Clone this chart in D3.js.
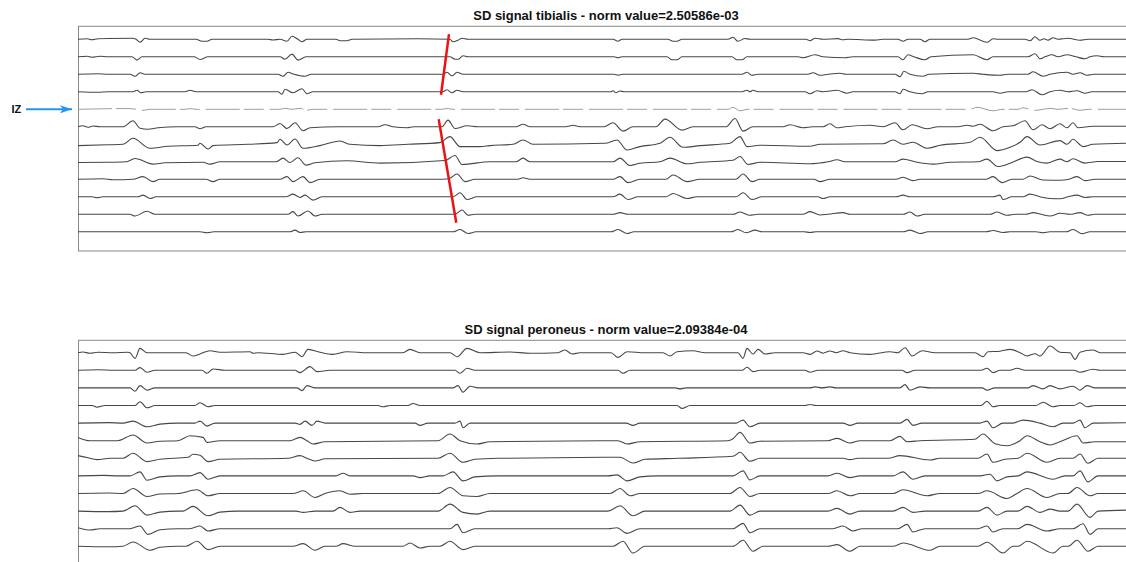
<!DOCTYPE html>
<html>
<head>
<meta charset="utf-8">
<script src="https://d3js.org/d3.v7.min.js"></script>
<style>
  body { margin: 0; background: #fff; }
  svg { display: block; }
</style>
</head>
<body>
<script>
// Panel titles
var titles = ["SD signal tibialis - norm value=2.50586e-03",
              "SD signal peroneus - norm value=2.09384e-04"];

// Innervation zone channel (tibialis)
var izChannel = 4;

// Tibialis traces: [time sample, amplitude] keypoints per channel
var tibialis = [
  [[0,0],[9,0.5],[14,-0.5],[20,0.5],[30,0.8],[55,1],[58,0],[62,-3],[67,1],[72,0],[118,0],[124,-2],[129,-2],[134,0],[190,0],[195,-0.7],[202,0],[209,-2],[214,3],[220,0],[224,-2.5],[229,0],[258,0],[262,-1.5],[269,-1.5],[274,0],[340,0.5],[372,0],[375,-2.5],[380,-1],[384,1],[390,0],[535,0],[540,-2],[544,0],[590,0],[595,-2],[599,-2],[604,0],[650,0],[655,2],[660,-2],[667,0.8],[672,0],[728,0],[732,-1.5],[737,1],[745,0],[760,0.7],[765,-0.5],[770,0],[797,-0.8],[805,0],[820,0],[825,-2],[830,0],[842,0],[847,-2.5],[852,0],[890,0],[895,1.5],[909,-3],[915,0.5],[920,0],[947,0],[952,-1.5],[957,2.5],[962,-1],[966,0.5],[970,-1],[975,1.5],[980,0],[990,1],[1002,-1],[1010,0],[1048,0]],
  [[0,0],[9,0.5],[14,-0.5],[22,0.5],[30,0],[54,0],[59,-3.3],[64,0],[116,0],[122,-2.7],[130,0],[202,0],[207,-2.5],[214,2.7],[220,-3.3],[228,0],[372,0],[377,-2.5],[380,-2.5],[385,1],[390,0],[536,0],[540,-1],[544,0],[589,0],[594,-3],[599,-3],[604,0],[654,0],[659,-3],[664,-3],[669,0],[720,0],[725,-1],[737,2],[745,0],[767,-1],[775,0],[820,0],[825,-3],[830,2],[836,0],[847,-3],[853,0],[895,2],[909,-3],[915,0],[950,0],[957,3],[962,-2],[967,0],[974,2],[980,0],[989,2],[998,0],[1007,-2],[1012,0],[1019,1],[1026,0],[1048,0]],
  [[0,0],[20,0.5],[30,0],[52,0],[57,-2],[62,1.5],[67,0],[200,0],[205,-2],[210,2],[216,0],[227,-2],[233,0],[365,0],[369,2],[374,-1.5],[379,2],[385,0],[536,0],[540,-0.8],[545,0],[664,0],[669,2],[674,-1],[680,0],[730,0],[735,1.5],[742,-1],[750,0],[762,1],[768,0],[817,0],[822,-2.5],[826,3],[832,0],[845,-2],[851,0],[895,1],[905,0],[922,-1],[930,0],[950,0],[955,2.5],[965,-2],[972,0],[989,2],[995,0],[1002,1.5],[1009,-1],[1016,0],[1048,0]],
  [[0,0],[20,-0.5],[30,0],[55,0],[59,1.5],[63,-1],[68,0],[107,0],[112,1.5],[118,0],[200,0],[204,-2.5],[207,2.5],[215,-1],[224,3],[229,-2],[235,0],[365,0],[369,2],[374,-1],[379,1.5],[385,0],[533,0],[535,1],[538,-1],[542,0.8],[546,0],[664,0],[669,1.5],[672,0],[675,1.5],[680,0],[727,0],[732,-2],[739,1],[745,0],[759,1.5],[769,-1.5],[775,0],[817,0],[822,-2],[825,2.5],[832,0],[844,-2],[850,0],[915,0],[922,-1.5],[930,0],[948,0],[954,2],[964,-3],[972,0],[982,1.5],[990,0],[999,1],[1007,-1.5],[1014,0],[1048,0]],
  [[0,0],[42,0.7],[52,0.7],[58,0],[65,-1],[72,0],[107,0],[112,0.7],[118,0],[202,0],[207,1],[214,0],[222,1],[229,-1],[235,0],[364,0],[369,0.8],[375,0],[650,0],[655,2],[662,-1.5],[670,0],[892,0],[899,2],[915,-1.5],[925,0],[940,0],[945,1.5],[957,-1],[965,0],[972,1],[980,0],[992,1],[1002,-1],[1010,0],[1048,0]],
  [[0,0],[5,1],[10,-0.5],[15,0.8],[22,0],[45,0],[55,6],[62,-1.5],[70,-2.5],[80,-1],[100,0],[117,0],[122,-2],[128,0],[195,0],[202,3.3],[209,-1.7],[217,4],[225,-4],[232,-1],[260,0],[300,0],[307,2],[315,0],[329,-1],[336,0],[364,0],[370,6.7],[377,-1.7],[389,1],[400,0],[438,0],[445,2.5],[452,0],[488,0],[495,1.5],[502,0],[526,0],[535,4],[545,-4.3],[555,0],[578,0],[587,7.7],[604,-3.3],[615,0],[648,0],[657,8.3],[665,-4.3],[675,0],[705,0],[712,2],[725,-1],[735,0],[745,0],[752,3],[759,-1],[767,0],[792,1.5],[805,0],[817,4],[825,-3],[834,2],[849,-2],[860,0],[880,0],[889,1.5],[895,0.5],[902,2.5],[915,-4],[925,0],[935,1],[947,6],[955,-3],[964,2],[972,-2],[982,3],[989,-1],[995,4],[1000,-1],[1015,0.5],[1048,0.5]],
  [[0,-1.3],[30,-0.5],[45,0],[55,6],[72,-4],[90,-2],[120,-1],[122,1],[130,-4.7],[135,-1.3],[170,0],[199,1.7],[202,5],[209,-0.7],[217,5.3],[225,-4],[242,-1.3],[262,3.3],[272,0],[302,-1.3],[330,0],[362,1.7],[372,7.7],[382,-2.3],[402,-2.3],[412,-1.3],[435,0],[445,4.3],[455,0],[527,1],[539,4.3],[549,-5.7],[562,-2.3],[582,1],[592,7],[605,-3],[622,-1.3],[652,1],[662,7.7],[669,-2.3],[682,-1],[732,-2],[742,0],[805,0.5],[815,4.3],[825,0],[835,2],[849,-4],[862,-1],[892,2],[902,7],[919,-6.3],[932,-3],[942,2],[949,7.7],[962,-0.7],[982,3.7],[989,0],[995,5],[1005,-2.3],[1015,0],[1048,1]],
  [[0,-0.7],[30,-0.5],[48,0],[57,3.3],[75,-2.3],[87,-1],[125,-0.5],[132,-2.3],[142,0],[198,0],[205,3.7],[212,-0.7],[220,4],[228,-3.3],[237,-1],[269,1],[302,-1.3],[367,1.3],[377,6.3],[384,-2.7],[412,0],[438,0],[445,3.7],[452,0],[535,0],[542,3.7],[552,-3.7],[562,-1.5],[582,0],[592,3.7],[609,-2],[622,-0.5],[655,1.5],[662,5.3],[670,-2.7],[682,-0.5],[732,-2],[750,0],[759,2],[767,0],[817,0],[825,2.7],[837,0],[855,-2.3],[872,-0.5],[900,0],[909,2.7],[920,-4.7],[932,-1.5],[949,4.7],[959,0.3],[969,-1.3],[982,2.7],[989,0],[995,3],[1007,-1.3],[1020,0.3],[1048,0.3]],
  [[0,0],[25,0.5],[35,-0.5],[55,0],[65,2.7],[75,-2.3],[82,0],[128,0],[135,-2.3],[142,0],[202,0],[209,2.7],[215,-2.3],[225,2.7],[232,-3.3],[242,0],[365,0],[372,1],[379,5.3],[387,-2.3],[397,0],[440,0],[445,1.5],[452,0],[535,0],[542,2.7],[550,-3.3],[562,0],[588,0],[595,4.3],[609,-2.3],[622,0],[658,0],[665,5.3],[674,-2.3],[682,0],[736,0],[742,-2.3],[752,0],[818,0],[825,2],[835,-1.3],[842,0],[908,0],[915,2.7],[924,-3.3],[934,0],[945,0],[952,3.3],[965,-0.7],[982,-1],[991,0],[999,2.7],[1007,-1.3],[1017,0],[1048,0]],
  [[0,0],[14,0],[19,-1],[25,0],[60,0],[65,1.7],[72,-1.7],[78,0],[208,0],[215,2.7],[222,-0.7],[227,1.7],[235,-3.3],[244,0],[375,0],[382,4],[389,-2.7],[399,0],[535,0],[542,2.7],[550,-2.7],[560,0],[588,0],[595,3.3],[609,-1.7],[619,0],[658,0],[665,4],[674,-2.7],[684,0],[740,0],[745,-1.7],[752,0],[818,0],[825,1.7],[832,0],[915,0],[922,1.7],[925,-2.7],[934,0],[945,0],[952,2.7],[962,0],[972,-1.7],[982,-2],[990,0],[999,1.7],[1007,-0.7],[1015,0],[1048,0]],
  [[0,0],[52,0],[57,-1.7],[69,3],[77,0],[210,0],[215,2.7],[220,-1.7],[230,3.3],[237,-1.7],[244,0],[377,0],[384,4.3],[390,-1],[397,0],[535,0],[542,1.7],[550,0],[655,0],[662,2.3],[672,-1],[680,0],[725,0],[732,2.7],[742,-0.7],[750,0],[765,1.7],[772,0],[825,0],[832,2.3],[839,-1.7],[847,0],[912,0],[919,2.3],[929,-1],[938,0],[948,0],[955,1.7],[963,0],[972,-1.7],[982,1],[992,0],[1002,1.7],[1010,-1],[1017,0],[1048,0]],
  [[0,0],[122,0],[129,-1],[136,0],[212,0],[217,1.7],[222,-0.7],[228,0],[375,0],[382,2.3],[390,-1.7],[398,0],[533,0],[540,2.3],[549,-1.7],[556,0],[653,0],[660,2.3],[668,-1],[677,1.7],[684,0],[726,0],[732,-0.7],[738,0],[825,0],[832,1.7],[842,-1.7],[850,0],[908,0],[915,1.3],[925,-0.7],[932,0],[958,0],[965,-1],[972,0],[988,0],[995,2.3],[1004,-2],[1012,0],[1048,0]]
];

// Peroneus traces: [time sample, amplitude] keypoints per channel
var peroneus = [
  [[0,0],[5,0.7],[12,-0.5],[20,0.5],[35,0],[50,0.5],[52,0],[57,-5.7],[62,4.3],[69,0],[108,0],[115,-3.3],[132,2],[142,0.5],[172,1],[175,-0.5],[180,0],[205,-1.7],[217,0.5],[224,-4],[230,3.3],[242,0.5],[255,-1.7],[269,1],[290,0],[325,0],[332,3.3],[342,0],[372,0],[379,-4],[389,4.3],[402,0],[432,0.7],[452,-0.5],[480,0],[487,2.7],[494,-1.3],[502,0],[533,0],[540,-4.7],[549,1],[567,0],[585,0],[592,-3.3],[599,1],[615,2],[627,0],[660,0],[665,-5.7],[669,4.3],[675,-1.3],[680,3.3],[687,-1.3],[697,0],[725,0],[732,-1.7],[739,1.7],[745,-0.5],[752,1.7],[758,0],[765,2],[772,0],[792,-1.7],[812,1],[820,0],[827,5],[834,-3.3],[844,2],[857,0],[897,0],[905,-4],[910,1],[922,1.5],[932,3.3],[942,0],[949,-3.3],[957,-1],[962,-3.3],[972,6.7],[982,0.5],[992,0],[997,-6.7],[1002,0.5],[1015,2.7],[1022,0],[1048,0]],
  [[0,0],[20,0.5],[35,0],[57,0],[62,2.7],[69,-2],[77,0],[124,0],[129,-3],[135,1.3],[147,0],[217,0],[222,-2.3],[232,3.7],[239,-1.3],[252,0],[377,0],[382,-3],[389,2],[397,0],[540,0],[545,-3],[552,0],[664,0],[669,3],[675,-1.3],[682,0],[727,0],[732,-2],[740,0],[824,0],[829,-2.3],[837,0],[903,0],[909,2],[915,-2.3],[922,0],[932,0],[939,2],[947,0],[996,0],[1002,-2],[1015,1],[1022,0],[1048,0]],
  [[0,0],[52,0],[57,-3.3],[62,2.3],[69,-2.3],[77,0],[219,0],[224,-2.7],[229,2.3],[237,0],[375,0],[380,2.3],[385,-4.3],[392,1.7],[400,0],[597,0],[602,-1],[608,0],[732,0],[737,1],[744,0],[752,1],[758,0],[822,0],[827,3.3],[832,-2.3],[842,1],[852,0],[904,0],[909,-2.3],[917,0],[950,0],[955,2.3],[965,-1],[972,2.3],[982,-1],[995,1.7],[1002,-2.3],[1009,2.3],[1017,0],[1048,0]],
  [[0,0],[14,0],[19,-1.7],[27,0],[57,0],[62,3.7],[69,-2.3],[77,0],[117,0],[122,2.7],[130,-1.3],[137,0],[300,0],[305,-1.3],[312,0],[330,0],[335,2],[342,0],[599,0],[604,-3],[612,0],[727,0],[732,1],[738,0],[903,0],[909,4.3],[915,-1.3],[922,0],[958,0],[965,3.3],[975,-1.3],[982,0],[996,0],[1002,2.7],[1009,-1.3],[1017,0],[1048,0]],
  [[0,0],[30,0.5],[45,0],[55,2],[69,-3.7],[82,-1],[100,0],[117,0],[122,2],[129,-3],[137,0],[217,0],[222,-1.3],[227,2],[234,-2.3],[239,2],[247,0],[337,0],[342,-2.3],[350,0],[377,0],[382,2],[385,-4.7],[392,0],[548,0],[555,-2.3],[562,0],[658,0],[665,3],[672,-3.7],[682,0],[765,0],[772,-2.3],[780,0],[822,0],[829,3.7],[835,-2.3],[844,0],[902,0],[909,2],[915,-4.7],[925,0],[935,0],[945,3],[962,0],[975,-3.7],[985,0],[995,0],[1002,3],[1007,-4.7],[1015,0],[1048,0.3]],
  [[0,3.3],[12,0],[40,0],[55,5.7],[69,-2.3],[82,-0.5],[100,0],[112,5],[125,3.3],[129,-1.7],[142,0],[212,0],[222,3.3],[229,0],[235,-3.3],[247,-1],[360,0],[372,6.7],[382,0],[399,-3.3],[412,-1],[540,0],[549,-3.3],[562,-1],[650,0],[655,2],[662,8.3],[672,-2.3],[682,-0.5],[750,0],[759,2.3],[772,-2.3],[782,0],[812,0],[822,4.3],[829,-1],[842,0],[897,1.5],[905,6.7],[917,-3],[929,-5],[942,0],[949,5],[962,-1],[972,-4.3],[982,-1],[999,5],[1005,-2.3],[1017,-1],[1048,-1]],
  [[0,2.7],[10,0.5],[19,-1.3],[32,0],[45,0],[55,5],[69,-3.3],[82,-1],[110,1],[115,4],[122,3],[130,-3.3],[142,-1],[210,0],[222,2.7],[229,0],[237,-2.7],[247,-0.5],[360,0],[372,5],[385,-4],[397,-1],[420,0],[542,1],[555,-4.7],[567,-1],[600,0],[655,2],[662,6],[672,-3],[682,0],[765,0],[772,-1.3],[780,0],[810,0],[822,2.7],[852,-1.7],[862,0],[900,0],[909,4.3],[915,-4],[927,-1],[940,0],[949,5],[969,-4],[982,0],[995,0],[1002,4.3],[1010,-5],[1020,0],[1048,0]],
  [[0,0],[25,0.5],[40,0],[52,0],[62,4],[69,-4.3],[82,-1],[100,0],[112,0],[122,3.3],[130,-3.3],[142,0],[258,0],[265,2.7],[272,0],[335,0],[342,-1.7],[352,0],[365,0],[375,4],[385,-5],[397,-1],[420,0],[530,0],[539,1],[549,-5],[562,-1],[580,0],[655,0],[665,5],[672,-4],[682,0],[750,0],[759,2.7],[772,-1.7],[782,0],[815,0],[825,4],[835,-3.3],[847,0],[902,0],[912,1.7],[919,-5],[929,-1],[940,0],[949,4],[975,-3.3],[987,0],[995,0],[1002,5],[1010,-6],[1020,0],[1048,0]],
  [[0,0],[30,0.5],[45,0],[55,5],[69,-3],[82,-0.5],[100,0],[119,3.7],[130,-2.3],[142,0],[215,0],[225,2.7],[237,-4],[247,0],[262,2.7],[272,-0.7],[285,0],[360,0],[372,6],[385,-2.3],[399,-3],[412,0],[532,0],[542,5],[552,-2.3],[562,0],[652,0],[662,6],[672,-3],[682,0],[750,0],[759,2.7],[772,-2.3],[782,0],[815,0],[825,3.7],[849,-2.3],[862,0],[900,0],[909,2.7],[929,-5],[939,0],[949,5],[969,-4],[982,0],[990,0],[999,6],[1012,-2.3],[1020,0],[1048,0]],
  [[0,0],[30,-0.5],[45,0],[57,5.3],[69,-4],[82,-1],[100,0],[105,0],[115,4.7],[130,-4.7],[142,-1],[160,0],[218,0],[225,-1.3],[237,0],[255,0],[262,3.7],[272,-1.3],[282,0],[360,0],[372,7],[385,-1.3],[399,-3],[412,0],[530,0],[542,5.3],[555,-4.7],[567,0],[652,0],[662,6],[672,-4],[682,0],[750,0],[759,2.7],[772,-3],[782,0],[815,0],[825,3.7],[835,-1.3],[847,0],[900,0],[909,3.7],[919,-4],[929,0],[940,0],[949,4.7],[962,-1.3],[972,2],[982,0],[990,0],[999,7],[1012,-6.3],[1020,0],[1048,1]],
  [[0,1],[12,-1.3],[22,0],[52,0],[62,2.7],[70,-5.7],[82,-1],[100,0],[112,0],[122,2.7],[130,-2.3],[142,0],[372,0],[379,4.3],[385,-4],[397,0],[530,0],[539,1],[549,-4.7],[562,0],[655,0],[665,5.3],[672,-4],[682,0],[755,0],[765,2.7],[775,-2.3],[784,0],[820,0],[829,4.3],[835,-3.3],[847,0],[900,0],[909,2.7],[915,-3.3],[925,0],[940,0],[949,4.3],[969,-2.3],[982,0],[995,0],[1005,5],[1012,-5.7],[1020,0],[1048,0]],
  [[0,0],[30,-0.5],[45,0],[55,4.3],[72,-4],[82,-1],[100,0],[108,0],[119,5],[130,-3.3],[142,0],[215,0],[225,2.7],[237,-4],[247,0],[258,0],[265,2.7],[277,0],[325,0],[332,3.3],[342,-1.7],[352,0],[362,0],[372,5],[385,-3.3],[397,0],[535,0],[545,5],[555,-6.7],[567,0],[655,0],[665,6],[675,-5],[685,0],[750,0],[759,1.7],[772,-5],[782,0],[815,0],[825,3.3],[852,-4],[862,0],[900,0],[909,4],[925,-6.7],[935,0],[940,0],[949,5],[975,-6.7],[985,0],[990,0],[999,6],[1010,-5],[1020,0],[1048,0]]
];

// Conduction lines on tibialis: [time sample, channel] end points
var izLines = [
  [[371, -0.3], [363, 3.17]],
  [[360.7, 4.57], [378.3, 10.48]]
];

var W = 1126, H = 562;
var svg = d3.select("body").append("svg")
    .attr("width", W)
    .attr("height", H);

// Shared time scale
var x = d3.scaleLinear().domain([0, 1048]).range([78, 1126]);
// Amplitude (px offsets around each channel baseline)
var amp = d3.scaleLinear().domain([-10, 10]).range([10, -10]);

var panels = [
  {title: titles[0], data: tibialis, frameTop: 26.3, frameBottom: 251, chan: d3.scaleLinear().domain([0, 11]).range([39.3, 231.8]), titleY: 19.5},
  {title: titles[1], data: peroneus, frameTop: 340.3, frameBottom: 600, chan: d3.scaleLinear().domain([0, 11]).range([352.7, 546.3]), titleY: 333.5}
];

panels.forEach(function(p, pi) {
  var g = svg.append("g");

  // frame
  g.append("rect")
      .attr("x", x(0) + 0.5)
      .attr("y", p.frameTop)
      .attr("width", x(1048) - x(0) + 10)
      .attr("height", p.frameBottom - p.frameTop)
      .attr("fill", "none")
      .attr("stroke", "#8a8a8a")
      .attr("stroke-width", 1);

  // title
  g.append("text")
      .attr("x", 606)
      .attr("y", p.titleY)
      .attr("text-anchor", "middle")
      .style("font-family", "Liberation Sans, Arial, sans-serif")
      .style("font-weight", "bold")
      .style("font-size", "13px")
      .attr("fill", "#111")
      .text(p.title);

  p.data.forEach(function(trace, ci) {
    var line = d3.line()
        .x(function(d) { return x(d[0]); })
        .y(function(d) { return p.chan(ci) + amp(d[1]); })
        .curve(d3.curveMonotoneX);
    var isIZ = (pi === 0 && ci === izChannel);
    g.append("path")
        .datum(trace)
        .attr("d", line)
        .attr("fill", "none")
        .attr("stroke", isIZ ? "#9e9e9e" : "#474747")
        .attr("stroke-width", isIZ ? 1 : 1.1)
        .attr("stroke-dasharray", isIZ ? "34,4,20,6" : null);
  });
});

// red conduction lines
izLines.forEach(function(seg) {
  svg.append("line")
      .attr("x1", x(seg[0][0]))
      .attr("y1", panels[0].chan(seg[0][1]))
      .attr("x2", x(seg[1][0]))
      .attr("y2", panels[0].chan(seg[1][1]))
      .attr("stroke", "#ee1111")
      .attr("stroke-width", 2.5);
});

// IZ label and arrow
var izY = panels[0].chan(izChannel);
svg.append("defs").append("marker")
    .attr("id", "arrow")
    .attr("viewBox", "0 0 12 8")
    .attr("refX", 12).attr("refY", 4)
    .attr("markerWidth", 12).attr("markerHeight", 8)
    .attr("markerUnits", "userSpaceOnUse")
    .attr("orient", "auto")
  .append("path")
    .attr("d", "M0,0 L12,4 L0,8 L3,4 Z")
    .attr("fill", "#2196f3");

svg.append("text")
    .attr("x", 11.5)
    .attr("y", izY + 4)
    .style("font-family", "Liberation Sans, Arial, sans-serif")
    .style("font-weight", "bold")
    .style("font-size", "11px")
    .attr("fill", "#111")
    .text("IZ");

svg.append("line")
    .attr("x1", 26).attr("y1", izY)
    .attr("x2", 72).attr("y2", izY)
    .attr("stroke", "#2196f3")
    .attr("stroke-width", 2)
    .attr("marker-end", "url(#arrow)");
</script>
</body>
</html>
